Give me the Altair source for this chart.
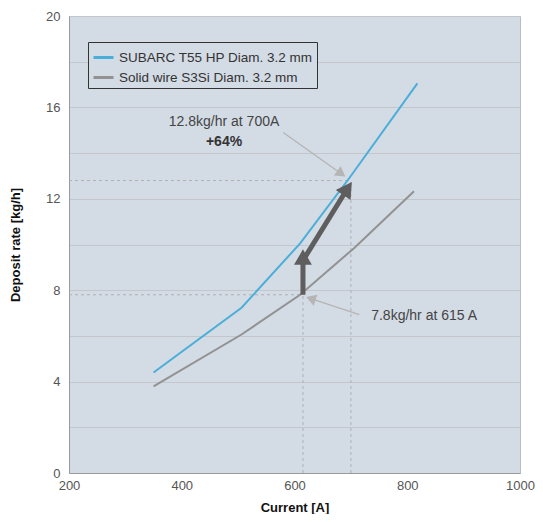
import altair as alt
import pandas as pd

# Series data
subarc_current = [350, 506, 610, 697, 818]
subarc_rate = [4.4, 7.23, 10.05, 12.9, 17.05]
solid_current = [350, 506, 610, 706, 812]
solid_rate = [3.79, 6.06, 7.8, 9.85, 12.33]
series_names = ["SUBARC T55 HP Diam. 3.2 mm", "Solid wire S3Si Diam. 3.2 mm"]
series_colors = ["#4aaed8", "#929292"]

# Annotation data (data coordinates)
ref_x = [615, 700]
ref_y = [7.8, 12.8]

rows = []
for c, r in zip(subarc_current, subarc_rate):
    rows.append({"series": series_names[0], "current": c, "rate": r})
for c, r in zip(solid_current, solid_rate):
    rows.append({"series": series_names[1], "current": c, "rate": r})
df = pd.DataFrame(rows)

font = "Liberation Sans"

x_scale = alt.Scale(domain=[200, 1000], nice=False, zero=False)
y_scale = alt.Scale(domain=[0, 20], nice=False)


def X(f):
    return alt.X(f, scale=x_scale)


def Y(f):
    return alt.Y(f, scale=y_scale)


lines = alt.Chart(df).mark_line(strokeWidth=2).encode(
    x=alt.X("current:Q", scale=x_scale,
            axis=alt.Axis(title="Current [A]", values=[200, 400, 600, 800, 1000], format="d",
                          grid=False, ticks=False, labelPadding=6, titlePadding=9,
                          labelFlush=False, labelOverlap=False, labelBound=False)),
    y=alt.Y("rate:Q", scale=y_scale,
            axis=alt.Axis(title="Deposit rate [kg/h]", values=list(range(0, 21, 2)),
                          labelExpr="datum.value % 4 == 0 ? datum.label : ''",
                          grid=True, ticks=False, labelPadding=9, titlePadding=23,
                          labelFlush=False)),
    color=alt.Color("series:N",
                    scale=alt.Scale(domain=series_names, range=series_colors),
                    sort=series_names,
                    legend=alt.Legend(title=None, orient="none", legendX=19, legendY=26,
                                      symbolType="stroke", symbolStrokeWidth=3, symbolSize=400,
                                      labelFontSize=13.5, labelColor="#333", labelFont=font,
                                      labelLimit=0,
                                      fillColor="#d3dbe5", strokeColor="#333",
                                      padding=4, rowPadding=2, labelOffset=4)),
)

# dashed reference lines
ref_df = pd.DataFrame({
    "x": [200, ref_x[0], 200, ref_x[1]],
    "x2": [ref_x[0], ref_x[0], ref_x[1], ref_x[1]],
    "y": [ref_y[0], 0, ref_y[1], 0],
    "y2": [ref_y[0], ref_y[0], ref_y[1], ref_y[1]],
})
refs = alt.Chart(ref_df).mark_rule(color="#b0b0b0", strokeWidth=1, strokeDash=[3, 3]).encode(
    x=X("x:Q"), x2="x2:Q", y=Y("y:Q"), y2="y2:Q")

# thin leader lines
lead_df = pd.DataFrame({
    "x": [580, 715], "y": [14.9, 6.93],
    "x2": [683, 629], "y2": [13.1, 7.63],
    "angle": [126, 289],
})
leaders = alt.Chart(lead_df).mark_rule(color="#b5b5b5", strokeWidth=1.3).encode(
    x=X("x:Q"), y=Y("y:Q"), x2="x2:Q", y2="y2:Q")
leader_heads = alt.Chart(lead_df).mark_point(shape="triangle-up", filled=True, opacity=1,
                                             color="#b5b5b5", size=130).encode(
    x=X("x2:Q"), y=Y("y2:Q"), angle=alt.Angle("angle:Q", scale=None))

# thick arrows
arrow_df = pd.DataFrame({
    "x": [615, 615], "y": [7.8, 9.3],
    "x2": [615, 694], "y2": [9.45, 12.45],
    "angle": [0, 34],
})
arrows = alt.Chart(arrow_df).mark_rule(color="#5e5e5e", strokeWidth=5).encode(
    x=X("x:Q"), y=Y("y:Q"), x2="x2:Q", y2="y2:Q")
arrow_heads = alt.Chart(arrow_df).mark_point(shape="triangle-up", filled=True, opacity=1,
                                            color="#5e5e5e", size=320).encode(
    x=X("x2:Q"), y=Y("y2:Q"), angle=alt.Angle("angle:Q", scale=None))

# texts
txt_df = pd.DataFrame({"x": [475], "y": [15.34], "t": ["12.8kg/hr at 700A"]})
txt1 = alt.Chart(txt_df).mark_text(font=font, fontSize=14, color="#444", align="center",
                                   baseline="middle").encode(x=X("x:Q"), y=Y("y:Q"), text="t:N")
txt_df2 = pd.DataFrame({"x": [475], "y": [14.5], "t": ["+64%"]})
txt2 = alt.Chart(txt_df2).mark_text(font=font, fontSize=14, color="#333", fontWeight="bold",
                                    align="center", baseline="middle").encode(x=X("x:Q"), y=Y("y:Q"), text="t:N")
txt_df3 = pd.DataFrame({"x": [736], "y": [6.88], "t": ["7.8kg/hr at 615 A"]})
txt3 = alt.Chart(txt_df3).mark_text(font=font, fontSize=14, color="#444", align="left",
                                    baseline="middle").encode(x=X("x:Q"), y=Y("y:Q"), text="t:N")

chart = alt.layer(refs, lines, leaders, leader_heads, arrows, arrow_heads, txt1, txt2, txt3).properties(
    width=451, height=457,
    autosize=alt.AutoSizeParams(type="none"),
    padding={"left": 61, "top": 8, "right": 15, "bottom": 41},
).configure_view(
    fill="#d3dbe5", stroke="#b9bdc2", strokeWidth=1,
).configure_axis(
    labelFont=font, labelFontSize=13, labelColor="#555",
    titleFont=font, titleFontSize=13, titleColor="#111", titleFontWeight="bold",
    domainColor="#9a9a9a", gridColor="#c3c7cc", gridWidth=1,
)

chart.save("out.html", embed_options={"renderer": "svg", "actions": False})
